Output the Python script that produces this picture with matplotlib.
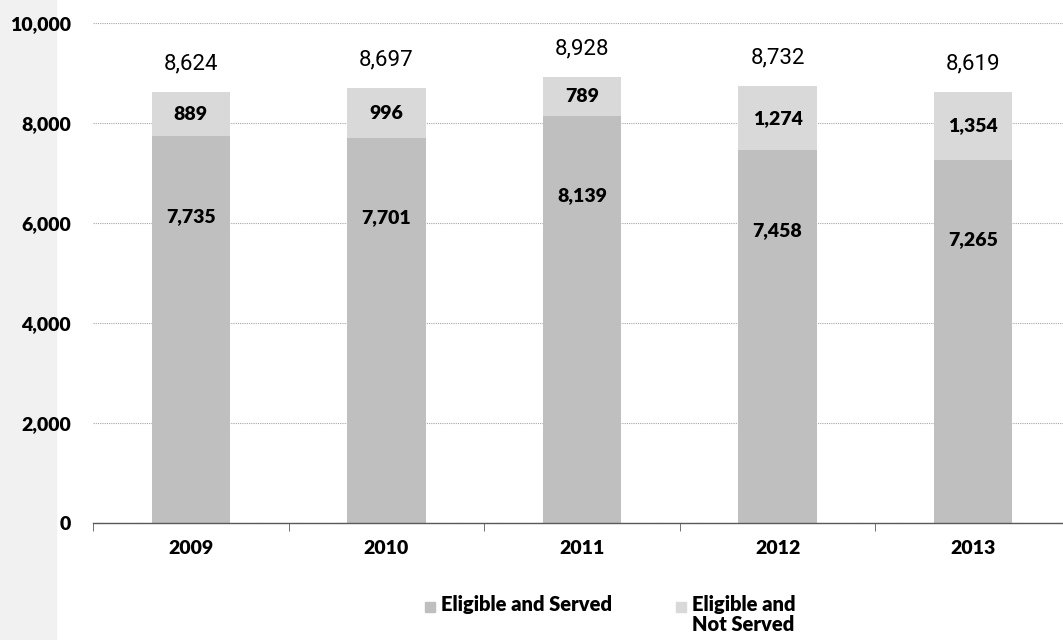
import numpy as np
import matplotlib.pyplot as plt
from matplotlib.patches import Rectangle

# datos del grafico
years = ['2009', '2010', '2011', '2012', '2013']
served = [7735, 7701, 8139, 7458, 7265]
not_served = [889, 996, 789, 1274, 1354]
totals = [8624, 8697, 8928, 8732, 8619]
legend_labels = ['Eligible and Served', 'Eligible and\nNot Served']

c_served = '#BFBFBF'
c_not = '#D9D9D9'

plt.rcParams['font.family'] = ['Lato', 'DejaVu Sans']

fig = plt.figure(figsize=(10.63, 6.4), dpi=100)
# franja gris a la izquierda
fig.add_artist(Rectangle((0, 0), 56 / 1063, 1, transform=fig.transFigure,
                         color='#F1F1F1', zorder=-10))

ax = fig.add_axes([93 / 1063, 117 / 640, 978 / 1063, 500 / 640])
ax.patch.set_alpha(0)
x = np.arange(len(years))

ax.bar(x, served, width=0.4, color=c_served, zorder=2)
ax.bar(x, not_served, width=0.4, bottom=served, color=c_not, zorder=2)

# etiquetas
bold = dict(fontsize=14, fontweight='heavy', zorder=3, ha='center', va='center')
for i in range(len(years)):
    ax.text(x[i], served[i] + not_served[i] / 2, f'{not_served[i]:,}', **bold)
    ax.text(x[i], served[i] - 1600, f'{served[i]:,}', **bold)
    ax.text(x[i], totals[i] + 560, f'{totals[i]:,}', ha='center', va='center',
            fontsize=16, family=['Roboto'], zorder=3)

ax.set_xlim(-0.5, len(years) - 0.5)
ax.set_ylim(0, 10000)
ax.set_yticks(np.arange(0, 10001, 2000))
ax.set_yticklabels([f'{v:,}' for v in range(0, 10001, 2000)], fontsize=14,
                   fontweight='heavy')
ax.yaxis.grid(True, linestyle=(0, (1, 1)), color='#A6A6A6', linewidth=0.8, zorder=1)
ax.tick_params(axis='y', length=0, pad=16)

ax.set_xticks(x)
ax.set_xticklabels(years, fontsize=14, fontweight='heavy')
ax.set_xticks(np.arange(-0.5, len(years)), minor=True)
ax.tick_params(axis='x', which='major', length=0, pad=12)
ax.tick_params(axis='x', which='minor', length=6, color='#595959', direction='out')

for s in ['top', 'right', 'left']:
    ax.spines[s].set_visible(False)
ax.spines['bottom'].set_color('#595959')
ax.spines['bottom'].set_linewidth(1.0)

# leyenda manual (primera linea alineada)
leg_x = [425, 676]
for lx, lab, col in zip(leg_x, legend_labels, [c_served, c_not]):
    fig.add_artist(Rectangle((lx / 1063, 1 - 612 / 640), 10 / 1063, 10 / 640,
                             transform=fig.transFigure, color=col))
    fig.text((lx + 16) / 1063, 1 - 595 / 640, lab, ha='left', va='top',
             fontsize=14.5, fontweight='heavy', linespacing=1.05)

fig.savefig('out.png', dpi=100)
